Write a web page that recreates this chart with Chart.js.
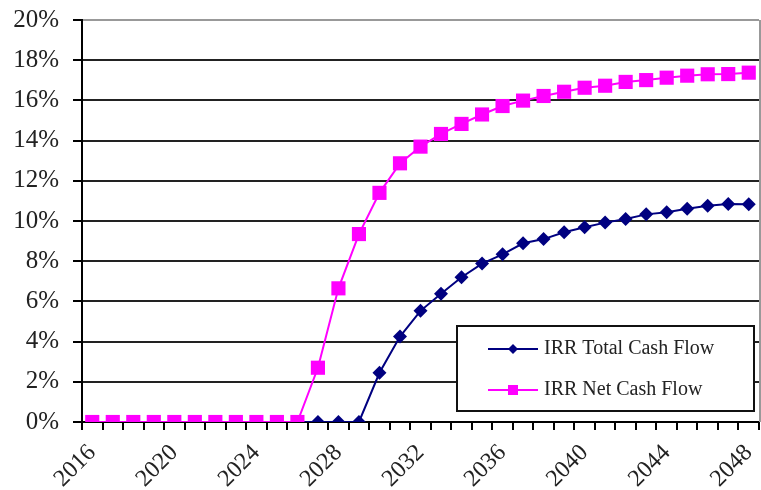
<!DOCTYPE html>
<html>
<head>
<meta charset="utf-8">
<script src="https://cdn.jsdelivr.net/npm/chart.js@4"></script>
<style>
  body { margin: 0; background: #fff; }
  #wrap { width: 761px; height: 490px; }
</style>
</head>
<body>
<div id="wrap"><canvas id="irrChart" width="761" height="490"></canvas></div>
<script>
// years on the x axis
const years = ['2016','2017','2018','2019','2020','2021','2022','2023','2024','2025','2026',
  '2027','2028','2029','2030','2031','2032','2033','2034','2035','2036','2037',
  '2038','2039','2040','2041','2042','2043','2044','2045','2046','2047','2048'];

// IRR values in %
const irrTotal = [0,0,0,0,0,0,0,0,0,0,0, 0,0,0,
  2.45,4.25,5.53,6.38,7.2,7.88,8.34,8.89,9.1,9.44,9.69,9.92,10.1,10.33,10.43,10.61,10.76,10.85,10.83];
const irrNet = [0,0,0,0,0,0,0,0,0,0,0,
  2.7,6.65,9.35,11.4,12.87,13.7,14.33,14.83,15.3,15.72,15.99,16.22,16.43,16.63,16.73,16.92,17.01,17.13,17.23,17.3,17.31,17.38];

const labelEvery = 4;
const yMax = 20;
const yStep = 2;

const serif = '"Liberation Serif", "Times New Roman", serif';

// legend box drawn inside the plot, bottom right
const boxLegend = {
  id: 'boxLegend',
  afterDraw(chart) {
    const ctx = chart.ctx;
    const area = chart.chartArea;
    const w = 297, h = 85;
    const x = area.right - 5 - w;
    const y = area.bottom - 11 - h;
    ctx.save();
    // right border of the plot
    ctx.strokeStyle = '#999';
    ctx.lineWidth = 2;
    ctx.beginPath();
    ctx.moveTo(area.right + 1, area.top);
    ctx.lineTo(area.right + 1, area.bottom);
    ctx.stroke();

    ctx.fillStyle = '#fff';
    ctx.fillRect(x, y, w, h);
    ctx.strokeStyle = '#111';
    ctx.strokeRect(x, y, w, h);
    ctx.font = '20px ' + serif;
    ctx.textBaseline = 'middle';
    chart.data.datasets.forEach((ds, i) => {
      const ly = y + 23 + i * 41;
      const cx = x + 56;
      ctx.strokeStyle = ds.borderColor;
      ctx.lineWidth = 2;
      ctx.beginPath();
      ctx.moveTo(x + 31, ly);
      ctx.lineTo(x + 81, ly);
      ctx.stroke();
      ctx.fillStyle = ds.pointBackgroundColor;
      ctx.beginPath();
      if (ds.pointStyle === 'rectRot') {
        const r = 5;
        ctx.moveTo(cx, ly - r);
        ctx.lineTo(cx + r, ly);
        ctx.lineTo(cx, ly + r);
        ctx.lineTo(cx - r, ly);
        ctx.closePath();
      } else {
        ctx.rect(cx - 5, ly - 5, 10, 10);
      }
      ctx.fill();
      ctx.fillStyle = '#222';
      ctx.fillText(ds.label, x + 87, ly);
    });
    ctx.restore();
  }
};

const ctx = document.getElementById('irrChart').getContext('2d');
const irrChart = new Chart(ctx, {
  type: 'line',
  data: {
    labels: years,
    datasets: [{
      label: 'IRR Total Cash Flow',
      data: irrTotal,
      borderColor: '#000080',
      backgroundColor: '#000080',
      pointBackgroundColor: '#000080',
      pointBorderWidth: 0,
      pointStyle: 'rectRot',
      pointRadius: 7,
      borderWidth: 2,
      tension: 0,
      order: 2
    }, {
      label: 'IRR Net Cash Flow',
      data: irrNet,
      borderColor: '#ff00ff',
      backgroundColor: '#ff00ff',
      pointBackgroundColor: '#ff00ff',
      pointBorderWidth: 0,
      pointStyle: 'rect',
      pointRadius: 10,
      borderWidth: 2,
      tension: 0,
      order: 1
    }]
  },
  options: {
    responsive: false,
    animation: false,
    layout: { autoPadding: false, padding: { top: 20, right: 2, left: 0, bottom: 0 } },
    plugins: {
      legend: { display: false },
      tooltip: { enabled: false }
    },
    scales: {
      x: {
        offset: true,
        grid: {
          offset: true,
          drawOnChartArea: false,
          drawTicks: true,
          tickLength: 8,
          tickColor: '#000',
          lineWidth: 2
        },
        border: { color: '#000', width: 2 },
        ticks: {
          autoSkip: false,
          maxRotation: 45,
          minRotation: 45,
          padding: 9,
          color: '#222',
          font: { family: serif, size: 24 },
          callback: function (val, i) {
            return i % labelEvery === 0 ? years[i] : '';
          }
        },
        afterFit: function (scale) {
          scale.height = 68;
          scale.paddingLeft = 0;
          scale.paddingRight = 0;
        }
      },
      y: {
        min: 0,
        max: yMax,
        grid: {
          color: (c) => c.tick && c.tick.value === yMax ? '#999' : '#222',
          lineWidth: 2,
          tickLength: 9,
          tickColor: '#000'
        },
        border: { color: '#000', width: 2 },
        ticks: {
          stepSize: yStep,
          padding: 14,
          color: '#222',
          font: { family: serif, size: 25 },
          callback: (v) => v + '%'
        },
        afterFit: function (scale) {
          scale.width = 82;
          scale.paddingTop = 0;
          scale.paddingBottom = 0;
        }
      }
    }
  },
  plugins: [boxLegend]
});
</script>
</body>
</html>
